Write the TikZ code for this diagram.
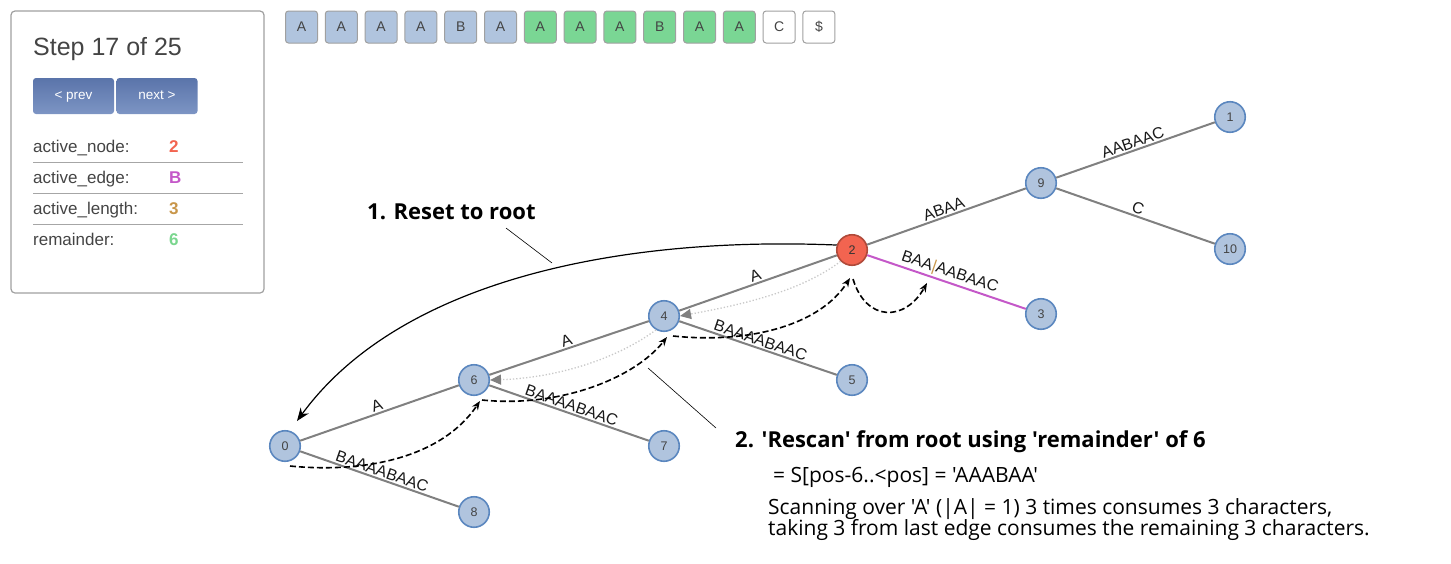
\documentclass[tikz,border=0pt]{standalone}
\usepackage{fontspec}
\setmainfont{Liberation Sans}
\newfontfamily\annofont[Ligatures=TeXOff]{Open Sans}
\usetikzlibrary{arrows.meta,calc}
\definecolor{nodefill}{HTML}{B0C4DE}
\definecolor{nodeborder}{HTML}{5B87BF}
\definecolor{rednode}{HTML}{F26450}
\definecolor{redborder}{HTML}{B04A3A}
\definecolor{edgegrey}{HTML}{808080}
\definecolor{purpleedge}{HTML}{C458C8}
\definecolor{greenbox}{HTML}{7AD694}
\definecolor{boxborder}{HTML}{A0A0A0}
\definecolor{txtgrey}{HTML}{444444}
\definecolor{goldc}{HTML}{C8964A}
\definecolor{greenc}{HTML}{7AD68E}
\definecolor{btntop}{HTML}{5A74AA}
\definecolor{btnbot}{HTML}{7D95C4}
\definecolor{linkgrey}{HTML}{C8C8C8}
\tikzset{
  tnode/.style={circle, draw=nodeborder, fill=nodefill, line width=1.6pt, minimum size=30.5pt, inner sep=0pt, font=\fontsize{12.5}{12.5}\selectfont, text=txtgrey},
  rnode/.style={tnode, draw=redborder, fill=rednode, text=black!80},
  tedge/.style={draw=edgegrey, line width=2pt},
  pedge/.style={draw=purpleedge, line width=2pt},
  elabel/.style={sloped, above, inner sep=1.5pt, font=\fontsize{16}{16}\selectfont, text=black!90},
  sufflink/.style={draw=linkgrey, line width=1.3pt, dotted, -{Triangle[length=11pt,width=10pt,color=edgegrey]}},
  rescan/.style={draw=black, line width=1.6pt, dash pattern=on 6pt off 3pt, -{Stealth[length=9pt,width=7pt]}},
  resetarrow/.style={draw=black, line width=1.2pt, -{Stealth[length=13pt,width=10pt]}},
  callout/.style={draw=black, line width=0.6pt},
  strbox/.style={draw=boxborder, line width=1pt, rounded corners=3pt, minimum width=32pt, minimum height=32pt, inner sep=0pt, font=\fontsize{14}{14}\selectfont, text=txtgrey},
  btn/.style={rounded corners=3pt, minimum width=81pt, minimum height=36pt, inner sep=0pt, text height=10pt, text depth=3pt, top color=btntop, bottom color=btnbot, text=white, font=\fontsize{13.5}{13.5}\selectfont},
  rowtxt/.style={anchor=base west, inner sep=0pt, font=\fontsize{17}{17}\selectfont, text=txtgrey},
  rowval/.style={anchor=base west, inner sep=0pt, font=\fontsize{17}{17}\selectfont\bfseries},
  antitle/.style={anchor=base west, inner sep=0pt, font=\annofont\fontsize{22}{22}\selectfont\bfseries},
  antext/.style={anchor=base west, inner sep=0pt, font=\annofont\fontsize{21}{21}\selectfont},
}
\begin{document}
\begin{tikzpicture}[x=1pt,y=-1pt]
\useasboundingbox (0,0) rectangle (1451,563);
% panel
\draw[draw=boxborder, line width=1.2pt, rounded corners=4pt] (11,11) rectangle (264,293);
\node[anchor=base west, inner sep=0pt, font=\fontsize{25}{25}\selectfont, text=txtgrey] (steptxt) at (33,55) {Step 17 of 25};
\node[btn] (prev) at (73.5,96) {< prev};
\node[btn] (next) at (157,96) {next >};
\node[rowtxt] (r1) at (33,152) {active\_node:};
\node[rowval, text=rednode] (v1) at (169,152) {2};
\node[rowtxt] (r2) at (33,183) {active\_edge:};
\node[rowval, text=purpleedge] (v2) at (169,183) {B};
\node[rowtxt] (r3) at (33,214) {active\_length:};
\node[rowval, text=goldc] (v3) at (169,214) {3};
\node[rowtxt] (r4) at (33,245) {remainder:};
\node[rowval, text=greenc] (v4) at (169,245) {6};
\foreach \yy in {162,193,224} \draw[draw=edgegrey!70, line width=1pt] (33,\yy) -- (243,\yy);
% string boxes
\foreach \ch [count=\i from 0] in {A,A,A,A,B,A} \node[strbox, fill=nodefill] (s\i) at (301.5+39.8*\i,27) {\ch};
\foreach \ch [count=\i from 6] in {A,A,A,B,A,A} \node[strbox, fill=greenbox] (s\i) at (301.5+39.8*\i,27) {\ch};
\node[strbox, fill=white] (s12) at (301.5+39.8*12,27) {C};
\node[strbox, fill=white] (s13) at (301.5+39.8*13,27) {\$};
% tree nodes
\node[tnode] (n0) at (285,446) {0};
\node[tnode] (n6) at (474,380) {6};
\node[tnode] (n4) at (664,316) {4};
\node[rnode] (n2) at (852,250) {2};
\node[tnode] (n9) at (1041,183) {9};
\node[tnode] (n1) at (1230,117) {1};
\node[tnode] (n10) at (1230,249) {10};
\node[tnode] (n3) at (1041,314) {3};
\node[tnode] (n5) at (852,380) {5};
\node[tnode] (n7) at (664,446) {7};
\node[tnode] (n8) at (474,512) {8};
% edges
\draw[tedge] (n0) -- (n6) node[elabel, midway] {A};
\draw[tedge] (n6) -- (n4) node[elabel, midway] {A};
\draw[tedge] (n4) -- (n2) node[elabel, midway] {A};
\draw[tedge] (n2) -- (n9) node[elabel, midway] {ABAA};
\draw[tedge] (n9) -- (n1) node[elabel, midway] {AABAAC};
\draw[tedge] (n9) -- (n10) node[elabel, midway] {C};
\draw[pedge] (n2) -- (n3) node[elabel, midway] {BAA\textcolor{goldc}{|}AABAAC};
\draw[tedge] (n4) -- (n5) node[elabel, midway] {BAAAABAAC};
\draw[tedge] (n6) -- (n7) node[elabel, midway] {BAAAABAAC};
\draw[tedge] (n0) -- (n8) node[elabel, midway] {BAAAABAAC};
% suffix links
\draw[sufflink] (n2.225) .. controls (800,292) and (740,305) .. (n4.east);
\draw[sufflink] (n4.240) .. controls (615,360) and (555,378) .. (n6.east);
% rescan path
\coordinate (p0) at (290,466);
\coordinate (p6a) at (480,401);
\coordinate (p6b) at (482,400);
\coordinate (p4a) at (667,337);
\coordinate (p4b) at (673,336);
\coordinate (p2a) at (850,278);
\coordinate (p2b) at (853,279);
\coordinate (pe) at (927,283);
\draw[rescan] (p0) .. controls (360,473) and (440,460) .. (p6a);
\draw[rescan] (p6b) .. controls (560,408) and (635,378) .. (p4a);
\draw[rescan] (p4b) .. controls (750,344) and (820,325) .. (p2a);
\draw[rescan] (p2b) .. controls (866,322) and (905,322) .. (pe);
% reset arrow
\coordinate (rend) at (297,421);
\draw[resetarrow] (n2.162) .. controls (620,236) and (400,280) .. (rend);
% annotations
\node[antitle] (t1) at (367,219) {1. Reset to root};
\coordinate (c1a) at (506,228);
\coordinate (c1b) at (552,263);
\draw[callout] (c1a) -- (c1b);
\coordinate (c2a) at (648,368);
\coordinate (c2b) at (716,428);
\draw[callout] (c2a) -- (c2b);
\node[antitle] (t2) at (735,447) {2. 'Rescan' from root using 'remainder' of 6};
\node[antext] (t3) at (773,482) {= S[pos-6..<pos] = 'AAABAA'};
\node[antext] (t4) at (768,514) {Scanning over 'A' (|A| = 1) 3 times consumes 3 characters,};
\node[antext] (t5) at (768,535) {taking 3 from last edge consumes the remaining 3 characters.};
\end{tikzpicture}
\end{document}
